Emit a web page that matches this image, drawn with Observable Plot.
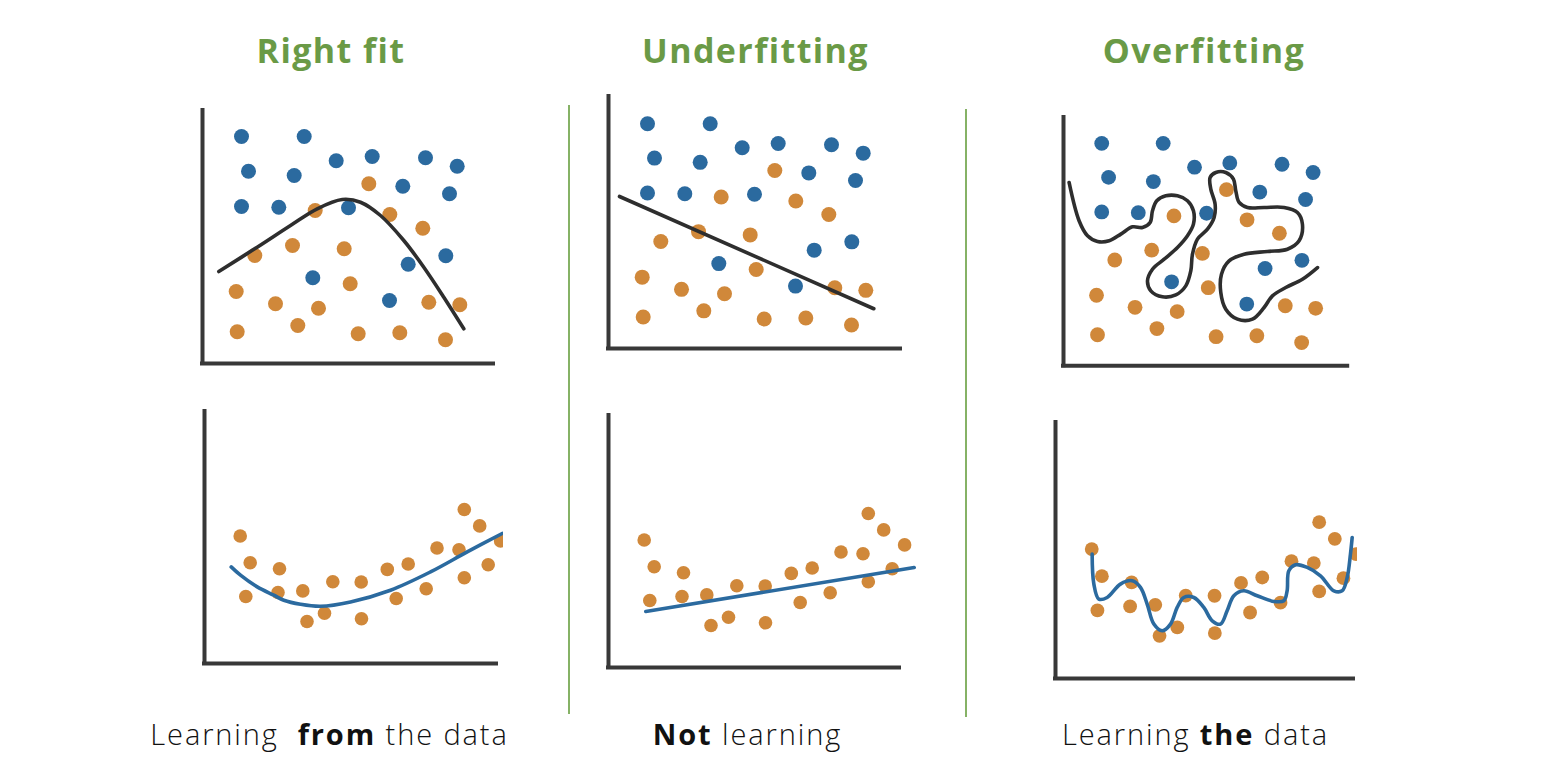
<!DOCTYPE html>
<html><head><meta charset="utf-8">
<script src="https://cdn.jsdelivr.net/npm/d3@7"></script>
<script src="https://cdn.jsdelivr.net/npm/@observablehq/plot@0.6"></script>
<style>
body{margin:0;background:#fff;}
#root{position:relative;width:1546px;height:784px;overflow:hidden;font-family:"Open Sans",sans-serif;background:#fff;}
.title{position:absolute;top:33px;line-height:1;font-weight:700;font-size:34px;letter-spacing:1.4px;color:#6a9a46;transform:translateX(-50%);white-space:pre;}
.caption{position:absolute;top:719px;line-height:1;font-size:29px;letter-spacing:1.9px;font-weight:300;color:#111;transform:translateX(-50%);white-space:pre;}
.caption b{font-weight:700}
.divider{position:absolute;width:2px;background:#86b266;}
.panel{position:absolute;}
</style></head><body><div id="root"></div><script>
// ---- data (units, origin at each panel's axis corner) ----
const titles = ["Right fit", "Underfitting", "Overfitting"];
const captions = [["Learning  ", "from", " the data"], ["", "Not", " learning"], ["Learning ", "the", " data"]];

const topBlue = [[39,227],[101.7,227],[46,192.3],[91.7,188],[133.7,202.7],[169.7,207],[223,205.7],[254.7,197.3],
  [200.3,177.3],[247,169.7],[39,157],[76.3,156.3],[146,155.7],[110.3,85.7],[205.7,99.3],[243.3,107.7],[187,63]];
const topOrange = [[166.3,179.7],[112.7,153],[187.3,149],[220.3,135.3],[52.3,108],[90,118],[141.7,114.7],[147.7,79.7],
  [33.7,72],[73,59.7],[116,55.3],[226.3,61.3],[257.3,58.7],[34.7,31.7],[95.3,38],[155.7,29.7],[197.3,30.7],[243,23.7]];
const rightFitBoundary = [[16.3,92],[54.7,116.3],[88,138],[114.7,154.7],[139.7,164],[158,161.3],[178,148],
  [201.3,123],[221.3,96.3],[241.3,66.3],[261.3,34.7]];
const underfitBoundary = [[11,153.5],[265.3,40.1]];
const overfitBoundary = [[5.7,187.1],[15.9,148],[24.5,132.7],[34.7,126.9],[46.6,127.6],[58.5,134.4],[70.4,141.8],
  [80.6,141.2],[88.4,146.3],[90.8,158.2],[95.2,168.4],[104.4,173.5],[116.3,173.5],[126.5,168.4],[132.6,158.2],
  [132.6,144.6],[126.5,132.7],[116.3,120.7],[102.7,108.8],[90.8,98.6],[85.7,86.7],[89.1,76.5],[101,70.4],
  [114.6,72.4],[124.8,81.6],[129.9,96.9],[131.6,113.9],[136.7,129.3],[146.9,139.5],[153.7,151.4],[154.7,165],
  [150.3,180.3],[149.6,192.2],[155.4,197.3],[165.6,197.3],[173.4,190.5],[175.8,178.6],[179.2,166.7],[187.7,161.6],
  [204.7,161.6],[225.1,161.6],[238.7,156.5],[243.8,144.6],[240.4,127.6],[228.5,119],[208.1,116.7],[184.3,113.9],
  [169,107.1],[161.2,93.5],[160.5,74.8],[165.6,57.8],[177.5,47.6],[192.8,47.6],[204.7,59.5],[213.2,71.4],
  [226.8,79.9],[243.8,88.4],[259.2,100.3]];

const bottomPoints = [[35.7,127.5],[45.7,100.8],[41.3,67],[75,94.7],[73.5,71],[98.3,72.6],[102.5,42],[120,50.3],
  [128.3,81.7],[156.7,81.5],[157,44.7],[182.8,94.1],[191.7,65],[203.7,99.5],[221.7,74.7],[232.5,115.5],
  [254.5,113.7],[259.8,85.8],[259.8,154],[275.2,137.6],[283.7,98.8],[296.1,122.6]];
const rightFitCurve = [[26.7,96.6],[36,88.3],[52.7,76.6],[69.3,68.3],[79.3,63.3],[96,59.3],[116,57.3],[146,61.6],
  [186,73.3],[226,91.6],[262.7,111.6],[297.7,130]];
const underfitCurve = [[37.3,56],[305.7,100]];
const overfitCurve = [[36.1,122.5],[37.8,93],[42.7,78.2],[50.9,79.8],[64,93],[75.5,96.3],[83.7,89.7],[90.3,73.3],
  [96.9,53.6],[105.1,47],[113.3,53.6],[119.9,70],[126.4,79.8],[136.3,79.8],[146.1,70],[154.4,56.8],[162.6,53.6],
  [169.1,66.7],[175.7,81.5],[185.5,86.4],[198.7,81.5],[215.1,75.9],[225,76.6],[228.2,86.4],[229.9,106.1],
  [236.5,112],[248,109.4],[261.1,101.2],[274.2,86.4],[282.4,86.4],[287.4,99.5],[290.6,122.5],[292.3,138.9]];

// ---- styles ----
const BLUE = "#2b6a9f", ORANGE = "#d0883a", INK = "#2e2e2e", AXIS = "#383838";
const pts = a => a.map(([x, y]) => ({x, y}));

const root = document.getElementById("root");

function panel({ox, oy, kx, ky, xlen, ylen, xmax, marks}) {
  const ml = 8, mt = 6, mb = 8;
  const width = ml + kx * xmax, height = mt + ky * ylen + mb;
  const svg = Plot.plot({
    width, height, marginLeft: ml, marginRight: 0, marginTop: mt, marginBottom: mb,
    x: {domain: [0, xmax], axis: null},
    y: {domain: [0, ylen], axis: null},
    style: {background: "transparent", overflow: "hidden"},
    marks: [
      ...marks,
      Plot.ruleX([0], {y1: 0, y2: ylen, stroke: AXIS, strokeWidth: 4, strokeLinecap: "square"}),
      Plot.ruleY([0], {x1: 0, x2: xlen, stroke: AXIS, strokeWidth: 4, strokeLinecap: "square"})
    ]
  });
  svg.classList.add("panel");
  svg.style.left = (ox - ml) + "px";
  svg.style.top = (oy - ky * ylen - mt) + "px";
  root.appendChild(svg);
}

function topMarks(r, boundary) {
  return [
    Plot.dot(pts(topBlue), {x: "x", y: "y", r, fill: BLUE}),
    Plot.dot(pts(topOrange), {x: "x", y: "y", r, fill: ORANGE}),
    Plot.line(pts(boundary), {x: "x", y: "y", curve: "catmull-rom", stroke: INK, strokeWidth: 3.6})
  ];
}
function bottomMarks(r, curve) {
  return [
    Plot.dot(pts(bottomPoints), {x: "x", y: "y", r, fill: ORANGE}),
    Plot.line(pts(curve), {x: "x", y: "y", curve: "catmull-rom", stroke: BLUE, strokeWidth: 3.6})
  ];
}

panel({ox: 202, oy: 363, kx: 1, ky: 1, xlen: 291, ylen: 253, xmax: 300, marks: topMarks(7.5, rightFitBoundary)});
panel({ox: 608, oy: 348, kx: 1, ky: 0.99, xlen: 292, ylen: 254.5, xmax: 300, marks: topMarks(7.5, underfitBoundary)});
panel({ox: 1062.7, oy: 365, kx: 0.98, ky: 0.98, xlen: 290, ylen: 253.4, xmax: 300, marks: topMarks(7.4, overfitBoundary)});
panel({ox: 204, oy: 663.3, kx: 1, ky: 1, xlen: 292, ylen: 252, xmax: 299, marks: bottomMarks(6.8, rightFitCurve)});
panel({ox: 607.7, oy: 666.7, kx: 1, ky: 1, xlen: 291, ylen: 252, xmax: 320, marks: bottomMarks(6.8, underfitCurve)});
panel({ox: 1055, oy: 677.7, kx: 1.015, ky: 1.015, xlen: 293.6, ylen: 252.2, xmax: 297.5, marks: bottomMarks(6.9, overfitCurve)});

// dividers
[[569, 105, 714], [966, 109, 717]].forEach(([x, y1, y2]) => {
  const d = document.createElement("div");
  d.className = "divider";
  d.style.left = (x - 1) + "px"; d.style.top = y1 + "px"; d.style.height = (y2 - y1) + "px";
  root.appendChild(d);
});

// titles and captions
const centers = [331, 755.5, 1204];
const capCenters = [329.5, 747.5, 1195.5];
titles.forEach((t, i) => {
  const d = document.createElement("div");
  d.className = "title"; d.textContent = t; d.style.left = centers[i] + "px";
  root.appendChild(d);
});
captions.forEach(([a, b, c], i) => {
  const d = document.createElement("div");
  d.className = "caption"; d.style.left = capCenters[i] + "px";
  d.append(a); const s = document.createElement("b"); s.textContent = b; d.append(s); d.append(c);
  root.appendChild(d);
});
</script></body></html>
